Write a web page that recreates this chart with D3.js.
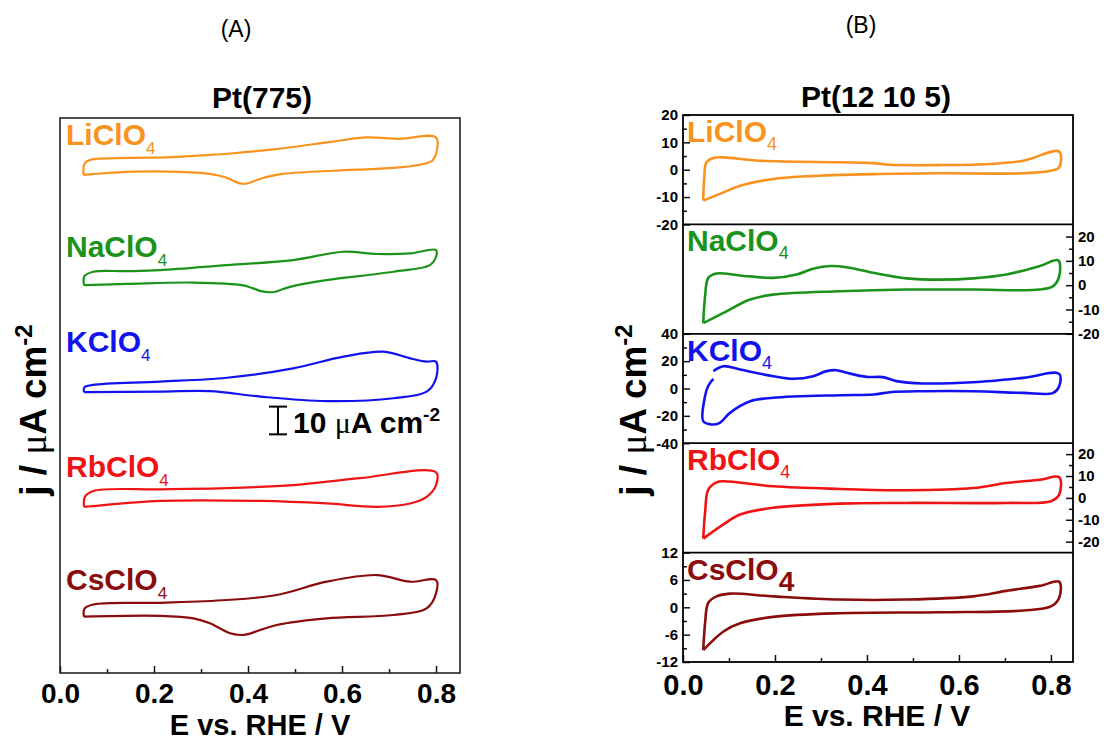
<!DOCTYPE html>
<html>
<head>
<meta charset="utf-8">
<script src="https://cdn.jsdelivr.net/npm/d3@7"></script>
<style>
  body { margin: 0; background: #fff; }
  svg text { font-family: "Liberation Sans", Arial, sans-serif; }
</style>
</head>
<body>
<div id="chart"></div>
<script>
// salts, colours
var salts = ["Li", "Na", "K", "Rb", "Cs"];
var colour = ["#f7931e", "#1b931b", "#1212ee", "#ee1414", "#8b0c0c"];

// panel A: Pt(775), stacked, [E / V, j / uA cm-2]
var offsetsA = [180, 140, 100, 60, 20];
var liA = [[0.05,-0.5],[0.052,3.5],[0.064,4.9],[0.15,5.6],[0.227,5.8],[0.30,6.5],[0.369,7.3],[0.475,9.1],[0.58,11.5],[0.652,13.0],[0.723,12.5],[0.80,13.0],
  [0.80,7.0],[0.792,4.6],[0.78,3.7],[0.723,2.2],[0.58,1.0],[0.47,-0.2],[0.44,-1.2],[0.415,-2.6],[0.40,-3.5],[0.388,-3.7],[0.375,-3.1],[0.36,-1.9],[0.34,-0.8],[0.30,0.2],[0.156,0.7],[0.065,-0.3],[0.05,-0.5]];
var naA = [[0.051,-0.2],[0.052,3.0],[0.071,4.6],[0.142,4.8],[0.213,5.2],[0.355,7.0],[0.496,8.8],[0.603,11.8],[0.674,11.0],[0.745,11.2],[0.80,12.4],
  [0.80,10.0],[0.787,7.0],[0.709,4.6],[0.567,1.6],[0.50,-0.4],[0.475,-1.6],[0.458,-2.6],[0.445,-2.8],[0.43,-2.5],[0.411,-1.4],[0.39,-0.3],[0.284,0.7],[0.142,0.2],[0.051,-0.2]];
var kA = [[0.051,1.2],[0.052,3.0],[0.07,3.8],[0.213,5.0],[0.355,6.4],[0.496,9.8],[0.603,14.0],[0.688,15.8],[0.745,13.4],[0.78,12.2],[0.80,12.2],
  [0.80,6.2],[0.78,1.4],[0.709,-1.0],[0.567,-2.0],[0.426,-0.4],[0.319,1.6],[0.213,1.4],[0.051,1.2]];
var rbA = [[0.051,-0.1],[0.053,3.5],[0.071,5.6],[0.213,6.2],[0.355,6.6],[0.496,7.7],[0.638,10.2],[0.80,12.3],
  [0.80,7.7],[0.78,3.5],[0.745,1.1],[0.674,-0.1],[0.567,1.1],[0.426,2.0],[0.213,2.0],[0.06,0.0],[0.051,-0.1]];
var csA = [[0.051,0.3],[0.052,3.2],[0.071,4.7],[0.213,5.3],[0.355,6.3],[0.461,8.1],[0.567,12.9],[0.674,15.3],[0.745,12.9],[0.80,13.5],
  [0.80,8.7],[0.78,3.3],[0.709,0.9],[0.567,-0.3],[0.461,-2.7],[0.426,-4.5],[0.397,-6.1],[0.383,-6.3],[0.362,-5.7],[0.34,-3.9],[0.319,-2.1],[0.284,-0.3],[0.213,0.6],[0.051,0.3]];
var scaleBar = [86, 96]; // 10 uA cm-2

// panel B: Pt(12 10 5), one sub-panel each
var liB = [[0.044,-11.3],[0.046,-3.4],[0.051,2.7],[0.066,4.3],[0.088,4.5],[0.166,3.3],[0.341,2.7],[0.414,2.4],[0.45,1.8],[0.559,1.7],[0.667,2.1],[0.74,3.3],[0.818,6.6],
  [0.818,0.9],[0.80,-0.4],[0.74,-1.3],[0.559,-1.3],[0.414,-1.6],[0.269,-2.4],[0.196,-3.4],[0.124,-5.9],[0.088,-8.3],[0.044,-11.3]];
var naB = [[0.044,-15.6],[0.048,-4.6],[0.055,3.0],[0.073,4.8],[0.124,4.0],[0.196,3.0],[0.247,4.4],[0.283,6.8],[0.32,7.9],[0.356,7.4],[0.414,5.1],[0.486,2.8],[0.559,2.3],[0.631,2.8],[0.703,4.4],[0.776,7.9],[0.816,10.2],
  [0.818,3.7],[0.805,-0.4],[0.776,-1.8],[0.631,-1.8],[0.486,-1.8],[0.341,-2.5],[0.196,-3.9],[0.146,-5.9],[0.088,-11.4],[0.044,-15.6]];
var kB = [[0.066,7.0],[0.055,2.0],[0.048,-5.5],[0.044,-23.9],[0.062,-26.3],[0.080,-25.1],[0.102,-17.8],[0.146,-9.3],[0.196,-6.8],[0.341,-4.9],[0.414,-4.4],[0.45,-2.7],[0.522,-2.0],[0.631,-2.0],[0.74,-3.2],[0.805,-3.2],
  [0.818,1.7],[0.818,10.7],[0.74,7.8],[0.631,4.6],[0.522,3.7],[0.464,5.4],[0.435,8.3],[0.399,8.5],[0.356,11.5],[0.334,13.4],[0.312,12.7],[0.283,9.0],[0.24,7.1],[0.196,9.0],[0.124,13.9],[0.088,16.3],[0.066,12.7]];
var rbB = [[0.044,-18.6],[0.048,-6.8],[0.055,3.8],[0.073,7.1],[0.088,7.6],[0.196,5.3],[0.341,4.1],[0.486,3.5],[0.631,4.5],[0.703,6.8],[0.776,8.3],[0.818,9.4],
  [0.818,1.5],[0.80,-1.5],[0.703,-2.3],[0.486,-2.3],[0.341,-2.6],[0.196,-4.5],[0.124,-7.6],[0.088,-12.1],[0.044,-18.6]];
var csB = [[0.044,-9.4],[0.048,-3.5],[0.055,1.0],[0.073,2.4],[0.102,3.0],[0.196,2.4],[0.341,1.7],[0.486,1.7],[0.631,2.4],[0.703,3.6],[0.776,4.7],[0.818,5.6],
  [0.818,2.1],[0.80,0.2],[0.74,-0.7],[0.559,-1.1],[0.341,-1.3],[0.196,-2.1],[0.124,-3.5],[0.088,-5.3],[0.044,-9.4]];

var domainsB = [[-20, 20], [-20, 25], [-40, 40], [-25, 25], [-12, 12]];
var majorB = [[-20, -10, 0, 10, 20], [-20, -10, 0, 10, 20], [-40, -20, 0, 20, 40], [-20, -10, 0, 10, 20], [-12, -6, 0, 6, 12]];
var minorB = [[-15, -5, 5, 15], [-15, -5, 5, 15], [-30, -10, 10, 30], [-15, -5, 5, 15], [-9, -3, 3, 9]];
var sideB = ["left", "right", "left", "right", "left"];

var xMajor = [0, 0.2, 0.4, 0.6, 0.8];
var xMinor = [0.1, 0.3, 0.5, 0.7];

var dataA = [liA, naA, kA, rbA, csA];
var dataB = [liB, naB, kB, rbB, csB];

var width = 1109, height = 742;
var svg = d3.select("#chart").append("svg")
  .attr("width", width).attr("height", height);
svg.append("rect").attr("width", width).attr("height", height).attr("fill", "#fff");

// ---------- panel A ----------
var A = {left: 60, right: 460, top: 118, bottom: 673};
var xA = d3.scaleLinear().domain([0, 0.851]).range([A.left, A.right]);
var yA = d3.scaleLinear().domain([0, 200]).range([A.bottom, A.top]);

function addXAxis(g, x, y0, pad, fs) {
  var ax = g.append("g").attr("transform", "translate(0," + y0 + ")")
    .call(d3.axisBottom(x).tickValues(xMajor).tickSize(-7).tickPadding(pad).tickFormat(d3.format(".1f")));
  ax.select(".domain").remove();
  ax.selectAll("line").attr("stroke", "#111").attr("stroke-width", 1.5);
  ax.selectAll("text").attr("font-size", fs).attr("font-weight", "bold").attr("fill", "#000")
    .attr("font-family", "Liberation Sans, Arial, sans-serif");
  var mn = g.append("g").attr("transform", "translate(0," + y0 + ")")
    .call(d3.axisBottom(x).tickValues(xMinor).tickSize(-4).tickFormat(""));
  mn.select(".domain").remove();
  mn.selectAll("line").attr("stroke", "#111").attr("stroke-width", 1.5);
}

var gA = svg.append("g");
addXAxis(gA, xA, A.bottom, 10, 28);
gA.append("rect").attr("x", A.left).attr("y", A.top)
  .attr("width", A.right - A.left).attr("height", A.bottom - A.top)
  .attr("fill", "none").attr("stroke", "#222").attr("stroke-width", 1.6);

dataA.forEach(function (d, i) {
  var line = d3.line()
    .x(function (p) { return xA(p[0]); })
    .y(function (p) { return yA(p[1] + offsetsA[i]); })
    .curve(d3.curveCatmullRom.alpha(0.5));
  gA.append("path").datum(d).attr("d", line)
    .attr("fill", "none").attr("stroke", colour[i]).attr("stroke-width", 2.2);
});

var labelYA = [145, 257, 352, 477, 590];
salts.forEach(function (s, i) {
  var t = gA.append("text").attr("x", 66).attr("y", labelYA[i])
    .attr("fill", colour[i]).attr("font-size", 30).attr("font-weight", "bold");
  t.append("tspan").text(s + "ClO");
  t.append("tspan").text("4").attr("font-size", 17).attr("font-weight", "normal").attr("dy", 9);
});

// scale bar
var sbx = 278;
gA.append("line").attr("x1", sbx).attr("x2", sbx).attr("y1", yA(scaleBar[0])).attr("y2", yA(scaleBar[1]))
  .attr("stroke", "#000").attr("stroke-width", 2);
[scaleBar[0], scaleBar[1]].forEach(function (v) {
  gA.append("line").attr("x1", sbx - 9).attr("x2", sbx + 9).attr("y1", yA(v)).attr("y2", yA(v))
    .attr("stroke", "#000").attr("stroke-width", 2);
});
var sbt = gA.append("text").attr("x", 293).attr("y", 433).attr("font-size", 30).attr("font-weight", "bold");
sbt.append("tspan").text("10 ");
sbt.append("tspan").text("\u03bc").attr("font-family", "Liberation Serif, serif").attr("font-weight", "normal");
sbt.append("tspan").text("A cm");
sbt.append("tspan").text("-2").attr("font-size", 19).attr("dy", -12);

gA.append("text").attr("x", 262).attr("y", 108).attr("text-anchor", "middle")
  .attr("font-size", 30).attr("font-weight", "bold").text("Pt(775)");
gA.append("text").attr("x", 260).attr("y", 735).attr("text-anchor", "middle")
  .attr("font-size", 29).attr("font-weight", "bold").text("E vs. RHE / V");

function yLabel(g, x, y) {
  var t = g.append("text").attr("transform", "translate(" + x + "," + y + ") rotate(-90)")
    .attr("text-anchor", "middle").attr("font-size", 37).attr("font-weight", "bold");
  t.append("tspan").text("j / ");
  t.append("tspan").text("\u03bc").attr("font-family", "Liberation Serif, serif").attr("font-weight", "normal");
  t.append("tspan").text("A cm");
  t.append("tspan").text("-2").attr("font-size", 24).attr("dy", -14);
}
yLabel(gA, 46, 410);

svg.append("text").attr("x", 236).attr("y", 37).attr("text-anchor", "middle")
  .attr("font-size", 23).attr("font-family", "Open Sans, sans-serif").text("(A)");

// ---------- panel B ----------
var B = {left: 683, right: 1073, top: 115, bottom: 662};
var xB = d3.scaleLinear().domain([0, 0.848]).range([B.left, B.right]);
var hB = (B.bottom - B.top) / 5;
var gB = svg.append("g");

dataB.forEach(function (d, i) {
  var top = B.top + i * hB;
  var y = d3.scaleLinear().domain(domainsB[i]).range([top + hB, top]);
  var axisFn = sideB[i] == "left" ? d3.axisLeft : d3.axisRight;
  var xPos = sideB[i] == "left" ? B.left : B.right;

  var ax = gB.append("g").attr("transform", "translate(" + xPos + ",0)")
    .call(axisFn(y).tickValues(majorB[i]).tickSize(-7).tickPadding(5).tickFormat(function (v) { return String(v); }));
  ax.select(".domain").remove();
  ax.selectAll("line").attr("stroke", "#111").attr("stroke-width", 1.5);
  ax.selectAll("text").attr("font-size", 15).attr("font-weight", "bold").attr("fill", "#000")
    .attr("font-family", "Liberation Sans, Arial, sans-serif");
  var mn = gB.append("g").attr("transform", "translate(" + xPos + ",0)")
    .call(axisFn(y).tickValues(minorB[i]).tickSize(-4).tickFormat(""));
  mn.select(".domain").remove();
  mn.selectAll("line").attr("stroke", "#111").attr("stroke-width", 1.5);

  var line = d3.line()
    .x(function (p) { return xB(p[0]); })
    .y(function (p) { return y(p[1]); })
    .curve(d3.curveCatmullRom.alpha(0.5));
  gB.append("path").datum(d).attr("d", line)
    .attr("fill", "none").attr("stroke", colour[i]).attr("stroke-width", 2.6);

  if (i > 0) {
    gB.append("line").attr("x1", B.left).attr("x2", B.right).attr("y1", top).attr("y2", top)
      .attr("stroke", "#000").attr("stroke-width", 1.8);
  }

  var t = gB.append("text").attr("x", 687).attr("y", top + 27)
    .attr("fill", colour[i]).attr("font-size", 30).attr("font-weight", "bold");
  t.append("tspan").text(salts[i] + "ClO");
  if (i == 4) {
    t.append("tspan").text("4").attr("font-size", 28).attr("dy", 11);
  } else {
    t.append("tspan").text("4").attr("font-size", 18).attr("font-weight", "normal").attr("dy", 8);
  }
});

addXAxis(gB, xB, B.bottom, 12, 29);
gB.append("rect").attr("x", B.left).attr("y", B.top)
  .attr("width", B.right - B.left).attr("height", B.bottom - B.top)
  .attr("fill", "none").attr("stroke", "#000").attr("stroke-width", 1.8);

gB.append("text").attr("x", 876).attr("y", 107).attr("text-anchor", "middle")
  .attr("font-size", 30).attr("font-weight", "bold").text("Pt(12 10 5)");
gB.append("text").attr("x", 877).attr("y", 726).attr("text-anchor", "middle")
  .attr("font-size", 30).attr("font-weight", "bold").text("E vs. RHE / V");
yLabel(gB, 646, 410);

svg.append("text").attr("x", 861).attr("y", 33).attr("text-anchor", "middle")
  .attr("font-size", 23).attr("font-family", "Liberation Serif, serif").text("(B)");
</script>
</body>
</html>
